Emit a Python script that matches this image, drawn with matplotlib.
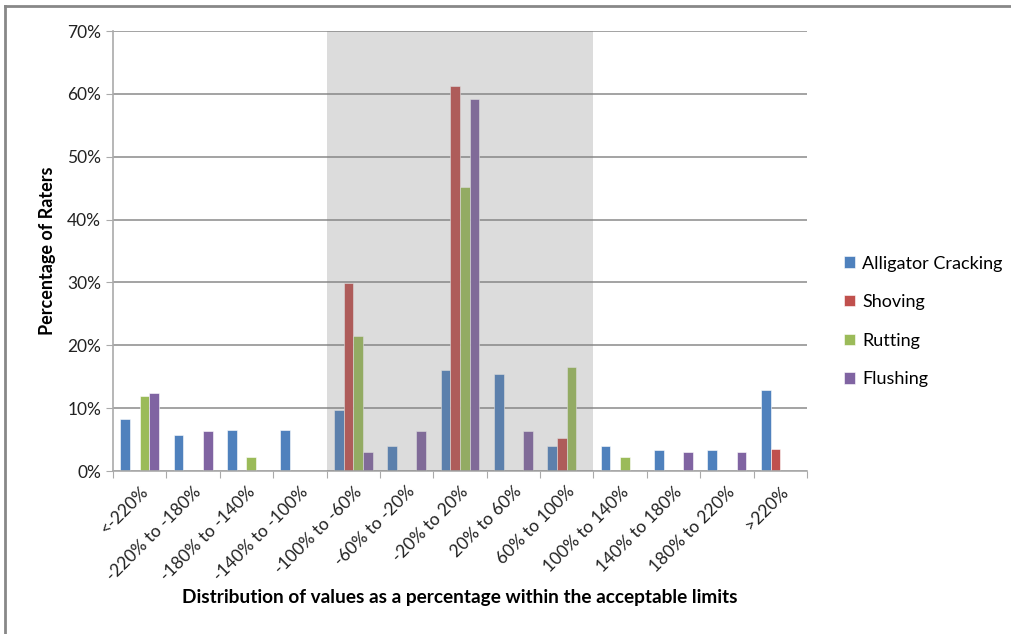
import numpy as np
import matplotlib.pyplot as plt
from matplotlib.lines import Line2D

plt.rcParams["font.family"] = ["Lato", "DejaVu Sans"]

categories = ["<-220%", "-220% to -180%", "-180% to -140%", "-140% to -100%",
              "-100% to -60%", "-60% to -20%", "-20% to 20%", "20% to 60%",
              "60% to 100%", "100% to 140%", "140% to 180%", "180% to 220%",
              ">220%"]

alligator = [8.2, 5.7, 6.6, 6.6, 9.7, 4.0, 16.1, 15.5, 4.0, 4.0, 3.3, 3.3, 12.9]
shoving = [0, 0, 0, 0, 29.9, 0, 61.3, 0, 5.2, 0, 0, 0, 3.5]
rutting = [11.9, 0, 2.3, 0, 21.4, 0, 45.2, 0, 16.6, 2.3, 0, 0, 0]
flushing = [12.4, 6.3, 0, 0, 3.1, 6.3, 59.2, 6.3, 0, 0, 3.1, 3.1, 0]

series = [("Alligator Cracking", alligator, "#4F81BD"),
          ("Shoving", shoving, "#C0504D"),
          ("Rutting", rutting, "#9BBB59"),
          ("Flushing", flushing, "#8064A2")]

# acceptable range shaded: "-100% to -60%" through "60% to 100%"
shade_start, shade_end = 4, 8

fig = plt.figure(figsize=(10.11, 6.34), dpi=100)
ax = fig.add_axes([113 / 1011, 1 - 471 / 634, 694 / 1011, 440 / 634])

x = np.arange(len(categories))
w = 0.182
for i, (name, vals, col) in enumerate(series):
    ax.bar(x + (i - 1.5) * w, vals, width=w, color=col, edgecolor="white",
           linewidth=0.4, zorder=2, label=name)

# translucent grey band over the central bins
ax.axvspan(shade_start - 0.5, shade_end + 0.5, color="#808080", alpha=0.27,
           linewidth=0, zorder=3)

ax.set_xlim(-0.5, len(categories) - 0.5)
ax.set_ylim(0, 70)
ax.set_yticks(range(0, 71, 10))
ax.set_yticklabels([f"{v}%" for v in range(0, 71, 10)], fontsize=12.5,
                   color="#222222")
ax.yaxis.grid(True, color="#8a8a8a", linewidth=1.1, zorder=0)
ax.set_axisbelow(True)

ax.set_xticks(np.arange(len(categories) + 1) - 0.5)
ax.set_xticklabels([])
ax.set_xticks(x, minor=True)
ax.set_xticklabels(categories, minor=True, rotation=45, ha="right",
                   rotation_mode="anchor", fontsize=12.5, color="#222222")
ax.tick_params(axis="x", which="minor", length=0, pad=9)
ax.tick_params(axis="x", which="major", length=5, color="#aaaaaa")
ax.tick_params(axis="y", length=5, color="#aaaaaa")

for s in ["top", "right"]:
    ax.spines[s].set_visible(False)
for s in ["left", "bottom"]:
    ax.spines[s].set_color("#aaaaaa")
    ax.spines[s].set_linewidth(1.2)

ax.set_ylabel("Percentage of Raters", fontsize=13, fontweight="bold",
              labelpad=8)
fig.text(460 / 1011, 1 - 598 / 634,
         "Distribution of values as a percentage within the acceptable limits",
         ha="center", va="center", fontsize=13.7, fontweight="bold")

handles, labels = ax.get_legend_handles_labels()
ax.legend(handles, labels, loc="center left", bbox_to_anchor=(1.03, 0.34),
          frameon=False, fontsize=13, handlelength=0.6, handleheight=0.6,
          handletextpad=0.4, labelspacing=1.25)

# chart border (top and left edges)
fig.add_artist(Line2D([5 / 1011, 5 / 1011], [0, 1 - 6 / 634],
                      transform=fig.transFigure, color="#888888", linewidth=2))
fig.add_artist(Line2D([5 / 1011, 1], [1 - 6 / 634, 1 - 6 / 634],
                      transform=fig.transFigure, color="#888888", linewidth=2))

fig.savefig("out.png", dpi=100)
